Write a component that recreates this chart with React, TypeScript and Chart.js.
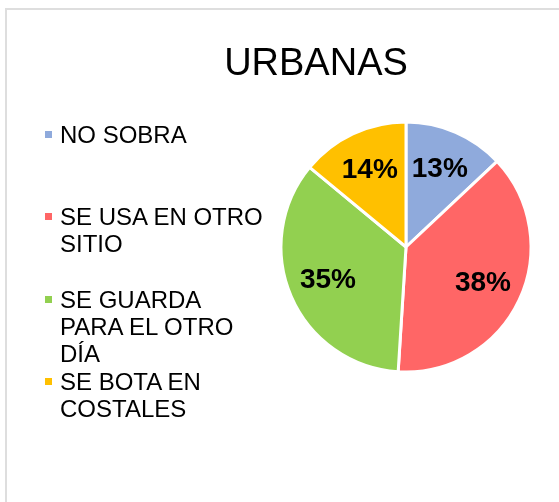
import React, { useEffect, useRef } from "react";
import { Chart, registerables } from "chart.js";

Chart.register(...registerables);

const chartTitle = "URBANAS";
const categories = [
  "NO SOBRA",
  "SE USA EN OTRO SITIO",
  "SE GUARDA PARA EL OTRO DÍA",
  "SE BOTA EN COSTALES",
];
const percentValues = [13, 38, 35, 14];
const sliceColors = ["#8FAADC", "#FF6666", "#92D050", "#FFC000"];

const FONT = "'Liberation Sans', Arial, sans-serif";

const pieLabelPlugin = {
  id: "pieLabels",
  afterDatasetsDraw(chart: any) {
    const ctx = chart.ctx;
    const meta = chart.getDatasetMeta(0);
    const data = chart.data.datasets[0].data as number[];
    ctx.save();
    ctx.font = `bold 28px ${FONT}`;
    ctx.fillStyle = "#000000";
    ctx.textAlign = "center";
    ctx.textBaseline = "middle";
    meta.data.forEach((arc: any, i: number) => {
      const p = arc.getProps(["x", "y", "startAngle", "endAngle", "outerRadius"], true);
      const mid = (p.startAngle + p.endAngle) / 2;
      const r = p.outerRadius * 0.68;
      ctx.fillText(`${data[i]}%`, p.x + Math.cos(mid) * r, p.y + Math.sin(mid) * r);
    });
    ctx.restore();
  },
};

export default function App() {
  const canvasRef = useRef<HTMLCanvasElement | null>(null);

  useEffect(() => {
    if (!canvasRef.current) return;
    const chart = new Chart(canvasRef.current, {
      type: "pie",
      data: {
        labels: categories,
        datasets: [
          {
            data: percentValues,
            backgroundColor: sliceColors,
            borderColor: "#FFFFFF",
            borderWidth: 3,
          },
        ],
      },
      options: {
        responsive: false,
        animation: false,
        layout: { padding: { left: 279.5, top: 120.5, right: 26.5, bottom: 128.5 } },
        plugins: {
          legend: { display: false },
          tooltip: { enabled: false },
          title: { display: false },
        },
      },
      plugins: [pieLabelPlugin],
    });
    return () => chart.destroy();
  }, []);

  const legendStart = 121;
  const legendPitch = 82.3;

  return (
    <div
      style={{
        position: "fixed",
        left: 0,
        top: 0,
        width: 559,
        height: 502,
        background: "#FFFFFF",
        overflow: "hidden",
        fontFamily: FONT,
      }}
    >
      <div
        style={{
          position: "absolute",
          left: 5,
          top: 8,
          width: 600,
          height: 600,
          border: "2px solid #DEDEDE",
          boxSizing: "border-box",
        }}
      />
      <canvas
        ref={canvasRef}
        width={559}
        height={502}
        style={{ position: "absolute", left: 0, top: 0, width: 559, height: 502 }}
      />
      <div
        style={{
          position: "absolute",
          left: 316,
          width: 300,
          marginLeft: -150,
          top: 43,
          textAlign: "center",
          fontSize: 38,
          lineHeight: "38px",
          color: "#000000",
        }}
      >
        {chartTitle}
      </div>
      {categories.map((label, i) => (
        <div
          key={label}
          style={{
            position: "absolute",
            left: 45,
            top: legendStart + i * legendPitch,
            display: "flex",
            alignItems: "flex-start",
          }}
        >
          <div
            style={{
              width: 7,
              height: 7,
              marginTop: 10,
              marginRight: 8,
              background: sliceColors[i],
              flex: "0 0 auto",
            }}
          />
          <div
            style={{
              width: 206,
              fontSize: 24,
              lineHeight: "27px",
              color: "#000000",
            }}
          >
            {label}
          </div>
        </div>
      ))}
    </div>
  );
}
